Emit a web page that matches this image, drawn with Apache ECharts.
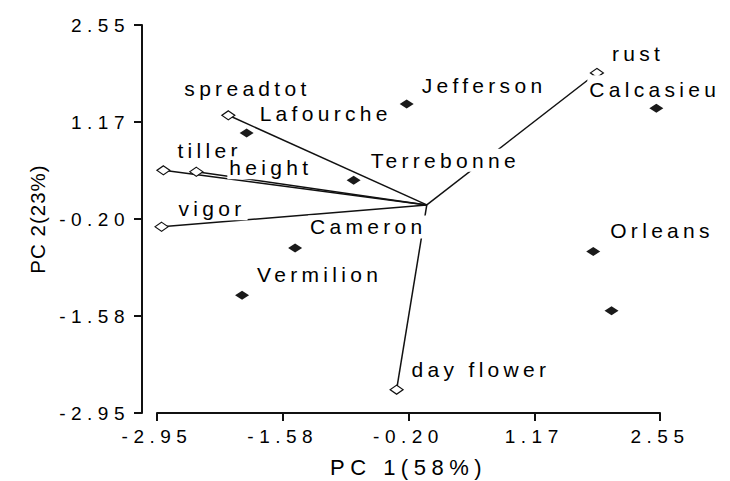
<!DOCTYPE html>
<html>
<head>
<meta charset="utf-8">
<script src="https://cdn.jsdelivr.net/npm/echarts@6/dist/echarts.min.js"></script>
<style>
    html, body { margin: 0; padding: 0; background: #fff; }
    #chart { width: 730px; height: 481px; }
    /* the original text is widely spaced, so stretch it a little */
    #chart text[style*="19px"] { letter-spacing: 5.5px; }
    #chart text[style*="21px"] { letter-spacing: 4.3px; }
    #chart text[style*="22px"] { letter-spacing: 5.5px; }
    #chart text[style*="20.5px"] { letter-spacing: 1px; }
</style>
</head>
<body>
<div id="chart"></div>
<script>
// 坐标轴刻度
const tickValues = [-2.95, -1.575, -0.2, 1.175, 2.55];
const tickLabels = ['-2.95', '-1.58', '-0.20', '1.17', '2.55'];

// 品种 (实心菱形)
const cultivarNames = ['Jefferson', 'Calcasieu', 'Lafourche', 'Terrebonne', 'Cameron', 'Vermilion', 'Orleans', ''];
const cultivarX = [-0.22, 2.51, -1.97, -0.80, -1.44, -2.02, 1.82, 2.02];
const cultivarY = [1.43, 1.37, 1.02, 0.35, -0.61, -1.28, -0.66, -1.50];

// 性状向量 (空心菱形)
const traitNames = ['rust', 'spreadtot', 'tiller', 'height', 'vigor', 'day flower'];
const traitX = [1.86, -2.17, -2.88, -2.52, -2.90, -0.33];
const traitY = [1.87, 1.27, 0.49, 0.47, -0.31, -2.62];

// 标签相对点的偏移 (像素)
const cultivarOffsets = [[13, -19], [-69, -19], [11, -19], [15, -20], [13, -21], [13, -21], [15, -21], [0, 0]];
const traitOffsets = [[13, -19], [-46, -27], [12, -20], [31, -4], [15, -18], [13, -20]];

const FONT = 'Liberation Sans';
const LABEL_SPACING = 4.3;

function tickText(v) {
    let best = 0;
    tickValues.forEach((t, i) => {
        if (Math.abs(t - v) < Math.abs(tickValues[best] - v)) best = i;
    });
    return tickLabels[best];
}

function makeLabel(name, offset, extraTop) {
    return {
        show: name !== '',
        formatter: name,
        position: 'inside',
        align: 'left',
        verticalAlign: 'middle',
        offset: offset,
        color: '#000',
        fontFamily: FONT,
        fontSize: 21,
        backgroundColor: '#fff',
        padding: [1 + (extraTop || 0), 2 + LABEL_SPACING * name.length, 1, 2]
    };
}

function axisCommon() {
    return {
        type: 'value',
        min: -2.95,
        max: 2.55,
        splitLine: { show: false },
        axisLine: { onZero: false, lineStyle: { color: '#111', width: 2 } },
        axisTick: { customValues: tickValues, length: 8, lineStyle: { color: '#111', width: 2 } },
        axisLabel: {
            customValues: tickValues,
            formatter: tickText,
            color: '#000',
            fontFamily: FONT,
            fontSize: 19
        }
    };
}

const chart = echarts.init(document.getElementById('chart'), null, { renderer: 'svg' });

const xAxis = axisCommon();
Object.assign(xAxis, {
    name: 'PC 1(58%)',
    nameLocation: 'middle',
    nameGap: 43,
    nameTextStyle: { color: '#000', fontFamily: FONT, fontSize: 22 }
});
xAxis.axisLabel.margin = 14;

const yAxis = axisCommon();
Object.assign(yAxis, {
    offset: 15,
    name: 'PC 2(23%)',
    nameLocation: 'middle',
    nameGap: 94,
    nameTextStyle: { color: '#000', fontFamily: FONT, fontSize: 20.5 }
});
yAxis.axisLabel.margin = 12;

const option = {
    animation: false,
    backgroundColor: '#fff',
    grid: { left: 157, right: 70, top: 25, bottom: 68, containLabel: false, outerBoundsMode: 'none' },
    xAxis: xAxis,
    yAxis: yAxis,
    series: [
        {
            type: 'lines',
            coordinateSystem: 'cartesian2d',
            silent: true,
            z: 1,
            lineStyle: { color: '#111', width: 1.5, opacity: 1 },
            data: traitNames.map((n, i) => ({ coords: [[0, 0], [traitX[i], traitY[i]]] }))
        },
        {
            type: 'scatter',
            symbol: 'diamond',
            symbolSize: [13, 9],
            z: 3,
            itemStyle: { color: '#fff', borderColor: '#111', borderWidth: 1.2, opacity: 1 },
            data: traitNames.map((n, i) => ({
                value: [traitX[i], traitY[i]],
                label: makeLabel(n, traitOffsets[i])
            }))
        },
        {
            type: 'scatter',
            symbol: 'diamond',
            symbolSize: [14, 9],
            z: 4,
            itemStyle: { color: '#1a1a1a', opacity: 1 },
            data: cultivarNames.map((n, i) => ({
                value: [cultivarX[i], cultivarY[i]],
                label: makeLabel(n, cultivarOffsets[i], n === 'Calcasieu' ? 5 : 0)
            }))
        }
    ]
};

chart.setOption(option);
</script>
</body>
</html>
